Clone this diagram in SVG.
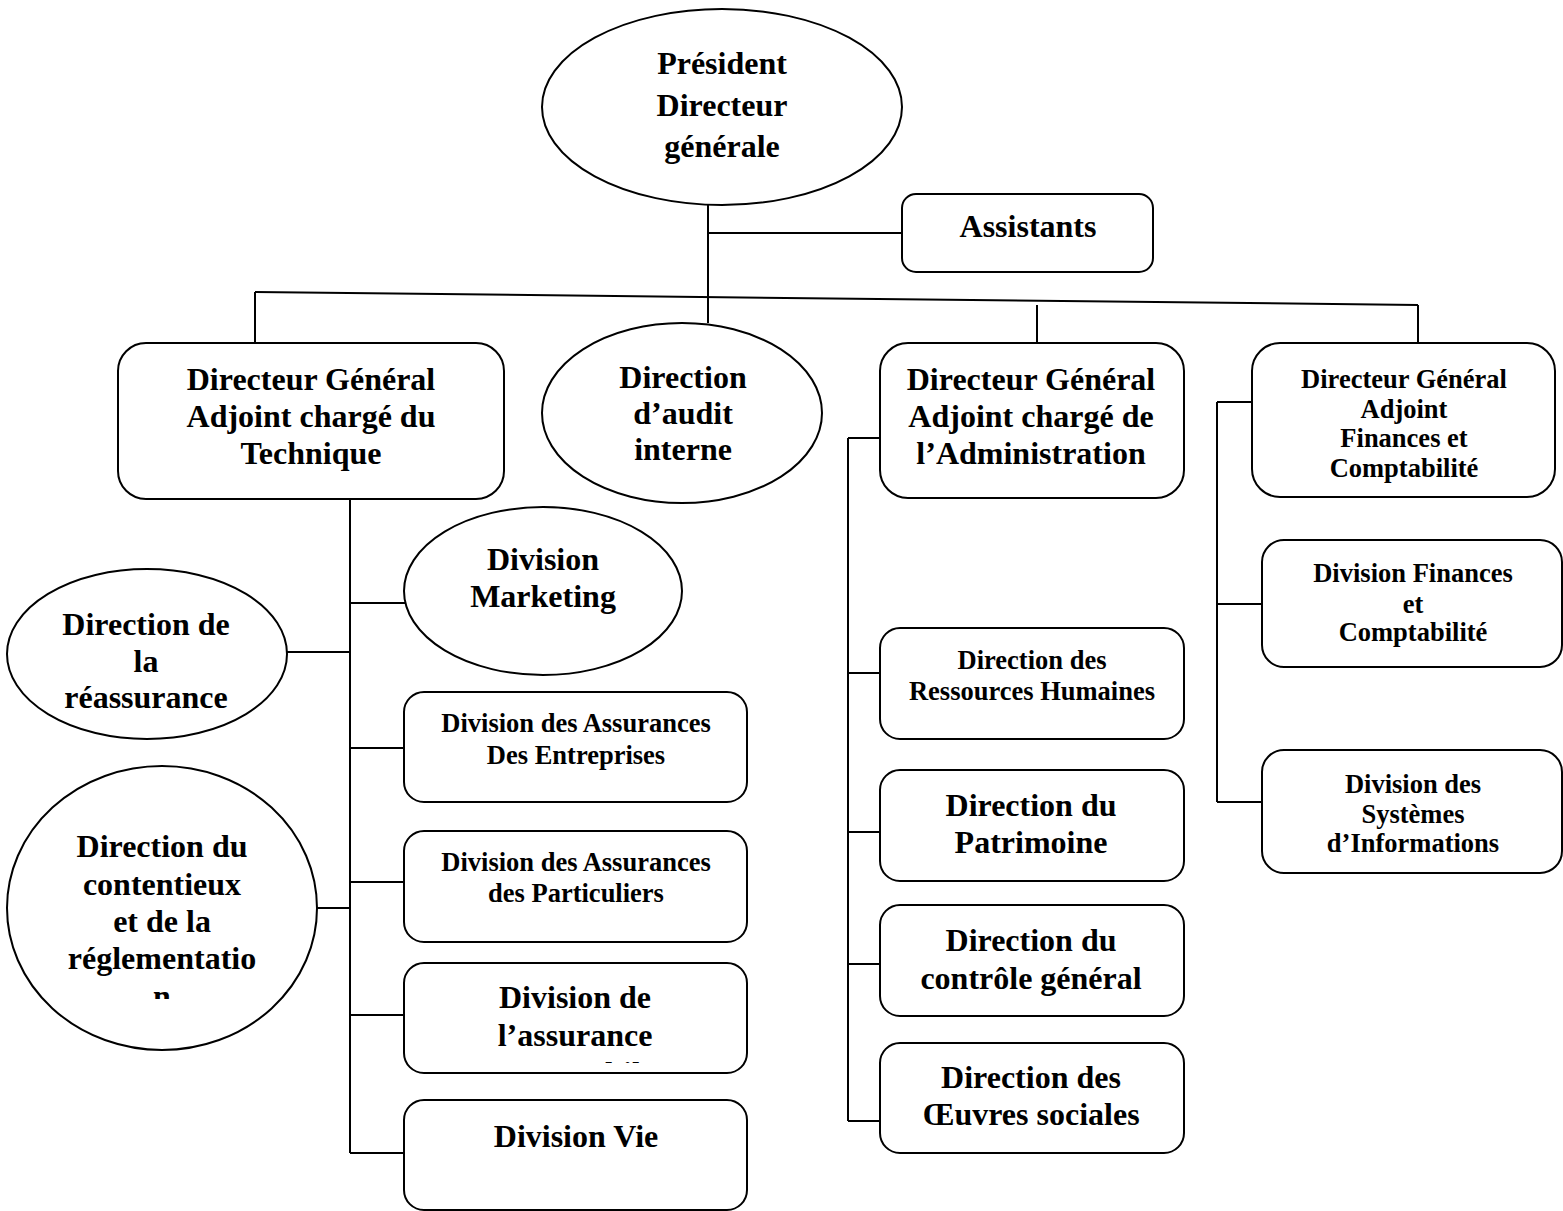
<svg xmlns="http://www.w3.org/2000/svg" width="1563" height="1211" viewBox="0 0 1563 1211">
<style>
.n{fill:#fff;stroke:#000;stroke-width:2}
.t{font-family:"Liberation Serif","Times New Roman",Tinos,"DejaVu Serif",serif;font-weight:bold;fill:#000;text-anchor:middle}
.L{font-size:32px}
.S{font-size:26.5px}
.c{fill:none;stroke:#000;stroke-width:2}
</style>
<defs>
<clipPath id="clipCont"><rect x="0" y="0" width="1563" height="999"/></clipPath>
<clipPath id="clipAuto"><rect x="0" y="0" width="1563" height="1063"/></clipPath>
</defs>
<g id="connectors">
<path class="c" d="M708 205V323M708 233H902"/>
<path class="c" d="M255 292L1418 305" stroke-width="3"/>
<path class="c" d="M255 292V343M1418 305V343M1037 305V343"/>
<path class="c" d="M350 499V1153M350 603H405M350 652H287M350 748H404M350 882H404M350 908H317M350 1015H404M350 1153H404"/>
<path class="c" d="M848 438V1121M848 438H880M848 673H880M848 832H880M848 964H880M848 1121H880"/>
<path class="c" d="M1217 402V802M1217 402H1252M1217 604H1262M1217 802H1262"/>
</g>
<g id="president">
<ellipse class="n" cx="722" cy="107" rx="180" ry="98"/>
<text class="t L" x="722" y="74">Président</text>
<text class="t L" x="722" y="116">Directeur</text>
<text class="t L" x="722" y="157">générale</text>
</g>
<g id="assistants">
<rect class="n" x="902" y="194" width="251" height="78" rx="14"/>
<text class="t L" x="1028" y="237">Assistants</text>
</g>
<g id="dga-technique">
<rect class="n" x="118" y="343" width="386" height="156" rx="28"/>
<text class="t L" x="311" y="390">Directeur Général</text>
<text class="t L" x="311" y="427">Adjoint chargé du</text>
<text class="t L" x="311" y="464">Technique</text>
</g>
<g id="audit">
<ellipse class="n" cx="682" cy="413" rx="140" ry="90"/>
<text class="t L" x="683" y="388">Direction</text>
<text class="t L" x="683" y="424">d’audit</text>
<text class="t L" x="683" y="460">interne</text>
</g>
<g id="dga-admin">
<rect class="n" x="880" y="343" width="304" height="155" rx="28"/>
<text class="t L" x="1031" y="390">Directeur Général</text>
<text class="t L" x="1031" y="427">Adjoint chargé de</text>
<text class="t L" x="1031" y="464">l’Administration</text>
</g>
<g id="dga-finances">
<rect class="n" x="1252" y="343" width="303" height="154" rx="28"/>
<text class="t S" x="1404" y="388">Directeur Général</text>
<text class="t S" x="1404" y="418">Adjoint</text>
<text class="t S" x="1404" y="447">Finances et</text>
<text class="t S" x="1404" y="477">Comptabilité</text>
</g>
<g id="div-finances">
<rect class="n" x="1262" y="540" width="300" height="127" rx="22"/>
<text class="t S" x="1413" y="582">Division Finances</text>
<text class="t S" x="1413" y="613">et</text>
<text class="t S" x="1413" y="641">Comptabilité</text>
</g>
<g id="div-si">
<rect class="n" x="1262" y="750" width="300" height="123" rx="22"/>
<text class="t S" x="1413" y="793">Division des</text>
<text class="t S" x="1413" y="823">Systèmes</text>
<text class="t S" x="1413" y="852">d’Informations</text>
</g>
<g id="marketing">
<ellipse class="n" cx="543" cy="591" rx="139" ry="84"/>
<text class="t L" x="543" y="570">Division</text>
<text class="t L" x="543" y="607">Marketing</text>
</g>
<g id="reassurance">
<ellipse class="n" cx="147" cy="654" rx="140" ry="85"/>
<text class="t L" x="146" y="635">Direction de</text>
<text class="t L" x="146" y="672">la</text>
<text class="t L" x="146" y="708">réassurance</text>
</g>
<g id="entreprises">
<rect class="n" x="404" y="692" width="343" height="110" rx="20"/>
<text class="t S" x="576" y="732">Division des Assurances</text>
<text class="t S" x="576" y="764">Des Entreprises</text>
</g>
<g id="particuliers">
<rect class="n" x="404" y="831" width="343" height="111" rx="20"/>
<text class="t S" x="576" y="871">Division des Assurances</text>
<text class="t S" x="576" y="902">des Particuliers</text>
</g>
<g id="contentieux">
<ellipse class="n" cx="162" cy="908" rx="155" ry="142"/>
<g clip-path="url(#clipCont)">
<text class="t L" x="162" y="857">Direction du</text>
<text class="t L" x="162" y="895">contentieux</text>
<text class="t L" x="162" y="932">et de la</text>
<text class="t L" x="162" y="969">réglementatio</text>
<text class="t L" x="162" y="1007">n</text>
</g>
</g>
<g id="assurance">
<rect class="n" x="404" y="963" width="343" height="110" rx="20"/>
<g clip-path="url(#clipAuto)">
<text class="t L" x="575" y="1008">Division de</text>
<text class="t L" x="575" y="1046">l’assurance</text>
<text class="t L" x="575" y="1084">Automobile</text>
</g>
</g>
<g id="vie">
<rect class="n" x="404" y="1100" width="343" height="110" rx="20"/>
<text class="t L" x="576" y="1147">Division Vie</text>
</g>
<g id="rh">
<rect class="n" x="880" y="628" width="304" height="111" rx="20"/>
<text class="t S" x="1032" y="669">Direction des</text>
<text class="t S" x="1032" y="700">Ressources Humaines</text>
</g>
<g id="patrimoine">
<rect class="n" x="880" y="770" width="304" height="111" rx="20"/>
<text class="t L" x="1031" y="816">Direction du</text>
<text class="t L" x="1031" y="853">Patrimoine</text>
</g>
<g id="controle">
<rect class="n" x="880" y="905" width="304" height="111" rx="20"/>
<text class="t L" x="1031" y="951">Direction du</text>
<text class="t L" x="1031" y="989">contrôle général</text>
</g>
<g id="oeuvres">
<rect class="n" x="880" y="1043" width="304" height="110" rx="20"/>
<text class="t L" x="1031" y="1088">Direction des</text>
<text class="t L" x="1031" y="1125">Œuvres sociales</text>
</g>
</svg>
